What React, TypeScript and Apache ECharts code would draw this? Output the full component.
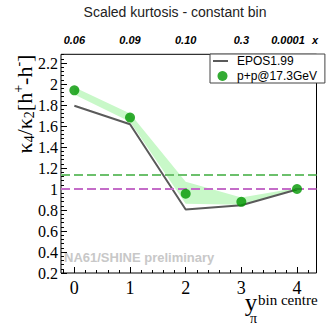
import React, { useEffect, useRef } from "react";
import * as echarts from "echarts";

// ---- data ----
const xPos = [0, 1, 2, 3, 4];
const xTickLabels = ["0", "1", "2", "3", "4"];
const topLabels = ["0.06", "0.09", "0.10", "0.3", "0.0001"];
const yTickValues = [0.2, 0.4, 0.6, 0.8, 1.0, 1.2, 1.4, 1.6, 1.8, 2.0, 2.2];
const ppData = [1.94, 1.68, 0.955, 0.878, 1.0];
const eposData = [1.793, 1.617, 0.805, 0.845, 0.995];
const bandLow = [1.9, 1.64, 0.86, 0.85, 0.99];
const bandHigh = [1.97, 1.72, 1.07, 0.92, 1.01];
const refGreen = 1.14;
const refMagenta = 1.0;

const X_MIN = -0.24;
const X_MAX = 4.35;
const Y_MIN = 0.2;
const Y_MAX = 2.283;

const xMinorTicks: number[] = [];
for (let k = -1; k <= 21; k++) xMinorTicks.push(Math.round(k * 0.2 * 100) / 100);
const yMinorTicks: number[] = [];
for (let k = 0; k <= 52; k++) yMinorTicks.push(Math.round((0.2 + k * 0.04) * 100) / 100);

const SERIF = '"Liberation Serif", "Times New Roman", serif';
const SANS = '"Liberation Sans", Arial, sans-serif';

export default function App() {
  const ref = useRef<HTMLDivElement>(null);
  useEffect(() => {
    if (!ref.current) return;
    const chart = echarts.init(ref.current, null, { renderer: "svg" });
    const option: any = {
      animation: false,
      backgroundColor: "#ffffff",
      title: {
        text: "Scaled kurtosis - constant bin",
        left: 175,
        top: 5,
        padding: 0,
        textAlign: "center",
        textStyle: { fontFamily: SANS, fontSize: 14, fontWeight: "normal", color: "#222" },
      },
      legend: {
        orient: "vertical",
        left: 210,
        top: 54,
        itemWidth: 19,
        itemHeight: 10,
        itemGap: 3,
        padding: [1, 8, 1, 3],
        borderColor: "#444",
        borderWidth: 1,
        backgroundColor: "#fff",
        textStyle: { fontFamily: SANS, fontSize: 12, color: "#000" },
        data: [
          { name: "EPOS1.99", icon: "path://M0,0 M19,10 M0,4 L15,4 L15,6 L0,6 Z" },
          { name: "p+p@17.3GeV", icon: "circle" },
        ],
      },
      grid: {
        left: 61,
        right: 9.5,
        top: 54.3,
        bottom: 53,
        show: true,
        borderColor: "#000",
        borderWidth: 1,
        backgroundColor: "transparent",
      },
      xAxis: [
        {
          type: "value",
          position: "bottom",
          min: X_MIN,
          max: X_MAX,
          axisLine: { show: false, onZero: false },
          splitLine: { show: false },
          axisTick: { inside: true, length: 6, customValues: xPos, lineStyle: { color: "#000" } },
          axisLabel: {
            customValues: xPos,
            formatter: (v: number) => xTickLabels[Math.round(v)] ?? "",
            margin: 6,
            fontFamily: SERIF,
            fontSize: 18,
            color: "#000",
          },
        },
        {
          type: "value",
          position: "bottom",
          min: X_MIN,
          max: X_MAX,
          axisLine: { show: false, onZero: false },
          splitLine: { show: false },
          axisTick: { inside: true, length: 3, customValues: xMinorTicks, lineStyle: { color: "#000" } },
          axisLabel: { show: false },
        },
        {
          type: "value",
          position: "top",
          min: X_MIN,
          max: X_MAX,
          axisLine: { show: false, onZero: false },
          splitLine: { show: false },
          axisTick: { show: false },
          axisLabel: {
            customValues: xPos,
            formatter: (v: number) => {
              const i = Math.round(v);
              const t = topLabels[i] ?? "";
              return i === 4 ? "{s|" + t + "}" : t;
            },
            rich: {
              s: {
                fontFamily: SANS,
                fontSize: 11,
                fontWeight: "bold",
                fontStyle: "italic",
                color: "#000",
                padding: [0, 18, 0, 0],
              },
            },
            margin: 9,
            fontFamily: SANS,
            fontSize: 11,
            fontWeight: "bold",
            fontStyle: "italic",
            color: "#000",
          },
        },
      ],
      yAxis: [
        {
          type: "value",
          position: "left",
          min: Y_MIN,
          max: Y_MAX,
          axisLine: { show: false, onZero: false },
          splitLine: { show: false },
          axisTick: { inside: true, length: 6, customValues: yTickValues, lineStyle: { color: "#000" } },
          axisLabel: {
            customValues: yTickValues,
            formatter: (v: number) => String(Number(v.toFixed(1))),
            margin: 3,
            fontFamily: SERIF,
            fontSize: 16,
            color: "#000",
          },
        },
        {
          type: "value",
          position: "left",
          min: Y_MIN,
          max: Y_MAX,
          axisLine: { show: false, onZero: false },
          splitLine: { show: false },
          axisTick: { inside: true, length: 3, customValues: yMinorTicks, lineStyle: { color: "#000" } },
          axisLabel: { show: false },
        },
      ],
      series: [
        {
          type: "custom",
          name: "band",
          silent: true,
          xAxisIndex: 0,
          yAxisIndex: 0,
          z: 1,
          data: xPos.map((x, i) => [x, bandLow[i], bandHigh[i]]),
          encode: { x: 0, y: [1, 2] },
          renderItem: (params: any, api: any) => {
            if (params.dataIndex !== 0) return null;
            const up = xPos.map((x, i) => api.coord([x, bandHigh[i]]));
            const lo = xPos.map((x, i) => api.coord([x, bandLow[i]])).reverse();
            return {
              type: "polygon",
              shape: { points: up.concat(lo) },
              style: { fill: "#c8f8c8" },
            };
          },
        },
        {
          type: "line",
          name: "EPOS1.99",
          xAxisIndex: 0,
          yAxisIndex: 0,
          z: 3,
          symbol: "none",
          showSymbol: false,
          lineStyle: { color: "#5a5a5a", width: 2 },
          itemStyle: { color: "#5a5a5a" },
          data: xPos.map((x, i) => [x, eposData[i]]),
          markLine: {
            silent: true,
            symbol: ["none", "none"],
            label: { show: false },
            data: [
              { yAxis: refGreen, lineStyle: { color: "#6cc06c", type: [9, 4], width: 2 } },
              { yAxis: refMagenta, lineStyle: { color: "#c46cc8", type: [9, 4], width: 2 } },
            ],
          },
        },
        {
          type: "scatter",
          name: "p+p@17.3GeV",
          xAxisIndex: 0,
          yAxisIndex: 0,
          z: 5,
          symbol: "circle",
          symbolSize: 10,
          itemStyle: { color: "#009600" },
          data: xPos.map((x, i) => [x, ppData[i]]),
        },
      ],
      graphic: [
        {
          type: "text",
          x: 64,
          y: 257.5,
          z: 0,
          silent: true,
          style: {
            text: "NA61/SHINE preliminary",
            fontFamily: SANS,
            fontSize: 13,
            fontWeight: "bold",
            fill: "#c8c8c8",
            align: "left",
            verticalAlign: "middle",
          },
        },
        {
          type: "text",
          x: 315,
          y: 40,
          style: {
            text: "x",
            fontFamily: SANS,
            fontSize: 11,
            fontWeight: "bold",
            fontStyle: "italic",
            fill: "#000",
            align: "center",
            verticalAlign: "middle",
          },
        },
        {
          type: "text",
          x: 24,
          y: 104,
          rotation: Math.PI / 2,
          style: {
            text: "{a|κ}{s|4}{a|/κ}{s|2}{a|[h}{p|+}{a|-h}{p|-}{a|]}",
            align: "center",
            verticalAlign: "middle",
            fill: "#000",
            rich: {
              a: { fontFamily: SERIF, fontSize: 22, fill: "#000", verticalAlign: "middle" },
              s: { fontFamily: SERIF, fontSize: 14, fill: "#000", verticalAlign: "middle", padding: [10, 0, 0, 0] },
              p: { fontFamily: SERIF, fontSize: 14, fill: "#000", verticalAlign: "middle", padding: [0, 0, 12, 0] },
            },
          },
        },
        {
          type: "text",
          x: 251,
          y: 302,
          style: {
            text: "y",
            fontFamily: SERIF,
            fontSize: 25,
            fill: "#000",
            align: "center",
            verticalAlign: "middle",
          },
        },
        {
          type: "text",
          x: 258,
          y: 300,
          style: {
            text: "bin centre",
            fontFamily: SERIF,
            fontSize: 15,
            fill: "#000",
            align: "left",
            verticalAlign: "middle",
          },
        },
        {
          type: "text",
          x: 253.5,
          y: 318.5,
          style: {
            text: "π",
            fontFamily: SERIF,
            fontSize: 14,
            fill: "#000",
            align: "center",
            verticalAlign: "middle",
          },
        },
      ],
    };
    chart.setOption(option);
    return () => chart.dispose();
  }, []);
  return (
    <div
      ref={ref}
      style={{ position: "fixed", left: 0, top: 0, width: 326, height: 326, background: "#fff" }}
    />
  );
}
